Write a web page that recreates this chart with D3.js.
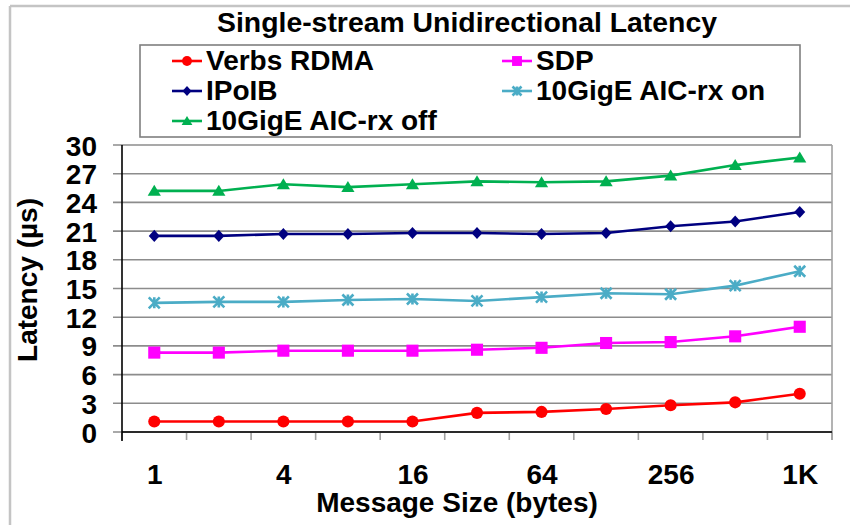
<!DOCTYPE html>
<html>
<head>
<meta charset="utf-8">
<script src="https://cdn.jsdelivr.net/npm/d3@7"></script>
<style>
  html, body { margin: 0; padding: 0; background: #fff; }
  svg { display: block; }
  text { font-family: "Liberation Sans", Arial, sans-serif; font-weight: bold; fill: #000; }
</style>
</head>
<body>
<svg id="chart" width="850" height="525"></svg>
<script>
// ---- data ----
const categories = ["1", "2", "4", "8", "16", "32", "64", "128", "256", "512", "1K"];
const tickLabels = ["1", "", "4", "", "16", "", "64", "", "256", "", "1K"];
const yTicks = [0, 3, 6, 9, 12, 15, 18, 21, 24, 27, 30];

const seriesNames = ["Verbs RDMA", "SDP", "IPoIB", "10GigE AIC-rx on", "10GigE AIC-rx off"];
const verbsRDMA = [1.1, 1.1, 1.1, 1.1, 1.1, 2.0, 2.1, 2.4, 2.8, 3.1, 4.0];
const sdp = [8.3, 8.3, 8.5, 8.5, 8.5, 8.6, 8.8, 9.3, 9.4, 10.0, 11.0];
const ipoib = [20.5, 20.5, 20.7, 20.7, 20.8, 20.8, 20.7, 20.8, 21.5, 22.0, 23.0];
const aicOn = [13.5, 13.6, 13.6, 13.8, 13.9, 13.7, 14.1, 14.5, 14.4, 15.3, 16.8];
const aicOff = [25.2, 25.2, 25.9, 25.6, 25.9, 26.2, 26.1, 26.2, 26.8, 27.9, 28.7];

const titleText = "Single-stream Unidirectional Latency";
const xTitle = "Message Size (bytes)";
const yTitle = "Latency (µs)";

// ---- styles ----
const seriesStyle = [
  { values: verbsRDMA, color: "#ff0000", marker: "circle" },
  { values: sdp, color: "#ff00ff", marker: "square" },
  { values: ipoib, color: "#000080", marker: "diamond" },
  { values: aicOn, color: "#4bacc6", marker: "star" },
  { values: aicOff, color: "#00b050", marker: "triangle" }
];

const svg = d3.select("#chart");
const plot = { left: 122, right: 832, top: 145, bottom: 432 };

const x = d3.scalePoint().domain(categories).range([plot.left, plot.right]).padding(0.5);
const xb = d3.scaleBand().domain(categories).range([plot.left, plot.right]).paddingInner(0).paddingOuter(0);
const y = d3.scaleLinear().domain([0, 30]).range([plot.bottom, plot.top]);

// outer frame (partial, as in reference)
svg.append("line").attr("x1", 10).attr("y1", 6).attr("x2", 850).attr("y2", 6)
  .attr("stroke", "#c4c4c4").attr("stroke-width", 2.5);
svg.append("line").attr("x1", 10).attr("y1", 6).attr("x2", 10).attr("y2", 525)
  .attr("stroke", "#c4c4c4").attr("stroke-width", 2.5);

// title
svg.append("text").attr("x", 467).attr("y", 32).attr("text-anchor", "middle")
  .attr("textLength", 500).attr("lengthAdjust", "spacingAndGlyphs")
  .style("font-size", "28px").text(titleText);

// gridlines + y tick marks
svg.append("g").selectAll("line").data(yTicks).join("line")
  .attr("x1", plot.left - 9).attr("x2", plot.right)
  .attr("y1", d => y(d)).attr("y2", d => y(d))
  .attr("stroke", "#8c8c8c").attr("stroke-width", 1.6);

// plot right border
svg.append("line").attr("x1", plot.right).attr("x2", plot.right)
  .attr("y1", plot.top).attr("y2", plot.bottom + 8)
  .attr("stroke", "#a0a0a0").attr("stroke-width", 1.6);

// x tick marks at band boundaries
const boundaries = categories.map(c => xb(c)).concat([plot.right]);
svg.append("g").selectAll("line").data(boundaries).join("line")
  .attr("x1", d => d).attr("x2", d => d)
  .attr("y1", plot.bottom).attr("y2", plot.bottom + 8)
  .attr("stroke", "#a0a0a0").attr("stroke-width", 1.6);

// y axis labels via d3 axis
const yAxis = svg.append("g").attr("transform", `translate(${plot.left},0)`)
  .call(d3.axisLeft(y).tickValues(yTicks).tickSize(0).tickPadding(25));
yAxis.select(".domain").remove();
yAxis.selectAll("text").style("font-size", "28px").attr("dy", "0.36em")
  .style("font-family", "'Liberation Sans', Arial, sans-serif").style("font-weight", "bold").attr("fill", "#000");

// x axis labels via d3 axis
const xAxis = svg.append("g").attr("transform", `translate(0,${plot.bottom})`)
  .call(d3.axisBottom(x).tickSize(0).tickPadding(0).tickFormat((d, i) => tickLabels[i]));
xAxis.select(".domain").remove();
xAxis.selectAll("text").style("font-size", "28px").attr("y", 52).attr("dy", 0)
  .style("font-family", "'Liberation Sans', Arial, sans-serif").style("font-weight", "bold").attr("fill", "#000");

// axis lines (black)
svg.append("line").attr("x1", plot.left).attr("x2", plot.left)
  .attr("y1", plot.top).attr("y2", plot.bottom + 9)
  .attr("stroke", "#000").attr("stroke-width", 1.6);
svg.append("line").attr("x1", plot.left).attr("x2", plot.right)
  .attr("y1", plot.bottom).attr("y2", plot.bottom)
  .attr("stroke", "#000").attr("stroke-width", 1.6);

// axis titles
svg.append("text").attr("x", 457).attr("y", 512).attr("text-anchor", "middle")
  .style("font-size", "28px").text(xTitle);
svg.append("text").attr("transform", "translate(37,280) rotate(-90)").attr("text-anchor", "middle")
  .style("font-size", "28px").text(yTitle);

// markers
function drawMarker(g, type, color, s) {
  if (type === "circle") {
    g.append("circle").attr("r", s * 0.55).attr("fill", color);
  } else if (type === "square") {
    g.append("rect").attr("x", -s * 0.55).attr("y", -s * 0.55).attr("width", s * 1.1).attr("height", s * 1.1).attr("fill", color);
  } else if (type === "diamond") {
    g.append("path").attr("d", `M0,${-s*0.55}L${s*0.5},0L0,${s*0.55}L${-s*0.5},0Z`).attr("fill", color);
  } else if (type === "triangle") {
    g.append("path").attr("d", `M0,${-s*0.55}L${s*0.6},${s*0.45}L${-s*0.6},${s*0.45}Z`).attr("fill", color);
  } else if (type === "star") {
    const h = s * 0.5;
    g.append("path").attr("d", `M${-h},${-h}L${h},${h}M${-h},${h}L${h},${-h}M0,${-h}L0,${h}`)
      .attr("stroke", color).attr("stroke-width", 2.6).attr("fill", "none");
  }
}

const line = d3.line().x((d, i) => x(categories[i])).y(d => y(d));
const seriesG = svg.append("g");
seriesStyle.forEach(s => {
  seriesG.append("path").datum(s.values).attr("d", line)
    .attr("fill", "none").attr("stroke", s.color).attr("stroke-width", 2.6);
  s.values.forEach((v, i) => {
    const g = seriesG.append("g").attr("transform", `translate(${x(categories[i])},${y(v)})`);
    drawMarker(g, s.marker, s.color, 11);
  });
});

// legend
svg.append("rect").attr("x", 140).attr("y", 45).attr("width", 660).attr("height", 92)
  .attr("fill", "#fff").attr("stroke", "#7f7f7f").attr("stroke-width", 1.6);
const legendPos = [
  { col: 0, row: 0 }, { col: 1, row: 0 },
  { col: 0, row: 1 }, { col: 1, row: 1 },
  { col: 0, row: 2 }
];
const colX = [187, 517];
seriesNames.forEach((name, i) => {
  const p = legendPos[i];
  const cx = colX[p.col];
  const cy = 61 + p.row * 30;
  const st = seriesStyle[i];
  const g = svg.append("g").attr("transform", `translate(${cx},${cy})`);
  g.append("line").attr("x1", -15).attr("x2", 15).attr("stroke", st.color).attr("stroke-width", 2.6);
  drawMarker(g, st.marker, st.color, 9);
  svg.append("text").attr("x", cx + 19).attr("y", cy + 9).style("font-size", "28px").text(name);
});
</script>
</body>
</html>
